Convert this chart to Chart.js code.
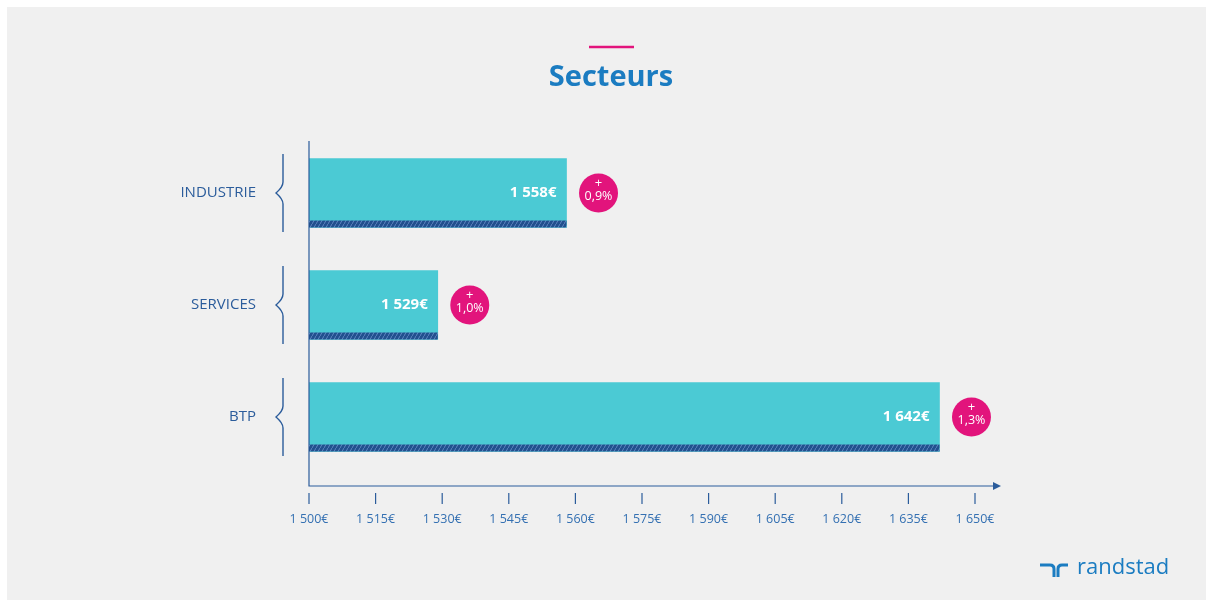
<!DOCTYPE html>
<html>
<head>
<meta charset="utf-8">
<script src="https://cdn.jsdelivr.net/npm/chart.js@4.4.1/dist/chart.umd.min.js"></script>
<style>
  html, body { margin: 0; padding: 0; background: #fff; }
  #wrap { position: relative; width: 1213px; height: 607px; }
</style>
</head>
<body>
<div id="wrap"><canvas id="chart" width="1213" height="607"></canvas></div>
<script>
const categories = ['INDUSTRIE', 'SERVICES', 'BTP']
const salaires = [1558, 1529, 1642]
const evolutions = ['0,9%', '1,0%', '1,3%']
const tickValues = [1500, 1515, 1530, 1545, 1560, 1575, 1590, 1605, 1620, 1635, 1650]

const NAVY = '#2b5c9b'
const BLUE = '#1b7cc1'
const TEAL = '#4bcad4'
const PINK = '#e2147c'
const FONT = '"Open Sans", "DejaVu Sans", sans-serif'

const fmtEuro = v => String(v).replace(/\B(?=(\d{3})+(?!\d))/g, ' ') + '€'

function stripePattern(ctx) {
  const c = document.createElement('canvas')
  c.width = 4; c.height = 7
  const p = c.getContext('2d')
  p.fillStyle = '#22508e'
  p.fillRect(0, 0, 4, 7)
  p.strokeStyle = '#5f86c0'
  p.lineWidth = 1
  p.beginPath()
  p.moveTo(0, 7); p.lineTo(4, 0)
  p.stroke()
  return ctx.createPattern(c, 'repeat')
}

const decor = {
  id: 'decor',
  beforeDraw(chart) {
    const ctx = chart.ctx
    ctx.save()
    ctx.fillStyle = '#ffffff'
    ctx.fillRect(0, 0, chart.width, chart.height)
    ctx.fillStyle = '#f0f0f0'
    ctx.fillRect(7, 7, chart.width - 14, chart.height - 14)

    // titre
    ctx.strokeStyle = PINK
    ctx.lineWidth = 2.5
    ctx.beginPath(); ctx.moveTo(589, 47); ctx.lineTo(634, 47); ctx.stroke()
    ctx.fillStyle = BLUE
    ctx.font = 'bold 29px ' + FONT
    ctx.textAlign = 'center'; ctx.textBaseline = 'middle'
    ctx.fillText('Secteurs', 611, 78)

    // logo
    ctx.fillStyle = BLUE
    ctx.font = '22px ' + FONT
    ctx.textAlign = 'left'
    ctx.fillText('randstad', 1077, 568)
    ctx.strokeStyle = BLUE
    ctx.lineWidth = 3
    ctx.beginPath()
    ctx.moveTo(1040, 565); ctx.lineTo(1050, 565); ctx.quadraticCurveTo(1054, 565, 1054, 569); ctx.lineTo(1054, 577)
    ctx.moveTo(1058, 577); ctx.lineTo(1058, 569); ctx.quadraticCurveTo(1058, 565, 1062, 565); ctx.lineTo(1068, 565)
    ctx.stroke()
    ctx.restore()
  },
  afterDatasetsDraw(chart) {
    const ctx = chart.ctx
    const area = chart.chartArea
    const xs = chart.scales.x
    const ys = chart.scales.y
    const meta = chart.getDatasetMeta(0)
    const axisY = area.bottom + 13
    ctx.save()

    // axes
    ctx.strokeStyle = NAVY
    ctx.lineWidth = 1.2
    ctx.beginPath()
    ctx.moveTo(area.left, area.top + 4); ctx.lineTo(area.left, axisY)
    ctx.lineTo(area.right + 20, axisY)
    ctx.stroke()
    ctx.fillStyle = NAVY
    ctx.beginPath()
    ctx.moveTo(area.right + 26, axisY); ctx.lineTo(area.right + 18, axisY - 4); ctx.lineTo(area.right + 18, axisY + 4)
    ctx.closePath(); ctx.fill()

    // graduations
    ctx.font = '12.5px ' + FONT
    ctx.textAlign = 'center'; ctx.textBaseline = 'middle'
    ctx.fillStyle = '#3470b2'
    tickValues.forEach(v => {
      const x = xs.getPixelForValue(v)
      ctx.beginPath(); ctx.moveTo(x, axisY + 7); ctx.lineTo(x, axisY + 18); ctx.stroke()
      ctx.fillText(fmtEuro(v), x, axisY + 33)
    })

    const pat = stripePattern(ctx)
    meta.data.forEach((bar, i) => {
      const { x, y, height } = bar.getProps(['x', 'y', 'height'], true)
      const left = xs.getPixelForValue(xs.min)
      const bottom = y + height / 2
      // bande hachuree
      ctx.fillStyle = pat
      ctx.fillRect(left, bottom - 7, x - left, 7)
      const cy = y

      // valeur
      ctx.fillStyle = '#ffffff'
      ctx.font = 'bold 15px ' + FONT
      ctx.textAlign = 'right'
      ctx.fillText(fmtEuro(salaires[i]), x - 10, cy)

      // pastille
      const cx = x + 32
      ctx.fillStyle = PINK
      ctx.beginPath(); ctx.arc(cx, cy, 19.5, 0, Math.PI * 2); ctx.fill()
      ctx.fillStyle = '#ffffff'
      ctx.textAlign = 'center'
      ctx.font = '13px ' + FONT
      ctx.fillText('+', cx, cy - 10)
      ctx.font = '12.5px ' + FONT
      ctx.fillText(evolutions[i], cx, cy + 3)

      // libelle + accolade
      const ly = ys.getPixelForValue(i)
      ctx.fillStyle = NAVY
      ctx.font = '500 15px ' + FONT
      ctx.textAlign = 'right'
      ctx.fillText(categories[i], area.left - 53, ly)
      ctx.strokeStyle = NAVY
      ctx.lineWidth = 1.4
      const bx = area.left - 26
      ctx.beginPath()
      ctx.moveTo(bx, ly - 39); ctx.lineTo(bx, ly - 11)
      ctx.quadraticCurveTo(bx, ly - 6, bx - 7, ly)
      ctx.quadraticCurveTo(bx, ly + 6, bx, ly + 11)
      ctx.lineTo(bx, ly + 39)
      ctx.stroke()
    })
    ctx.restore()
  }
}

new Chart(document.getElementById('chart'), {
  type: 'bar',
  data: {
    labels: categories,
    datasets: [{
      data: salaires,
      backgroundColor: TEAL,
      borderWidth: 0,
      barThickness: 69
    }]
  },
  options: {
    indexAxis: 'y',
    responsive: false,
    animation: false,
    layout: { padding: { left: 309, right: 238, top: 137, bottom: 134 } },
    plugins: { legend: { display: false }, tooltip: { enabled: false } },
    scales: {
      x: { display: false, min: 1500, max: 1650 },
      y: { display: false }
    }
  },
  plugins: [decor]
})
</script>
</body>
</html>
